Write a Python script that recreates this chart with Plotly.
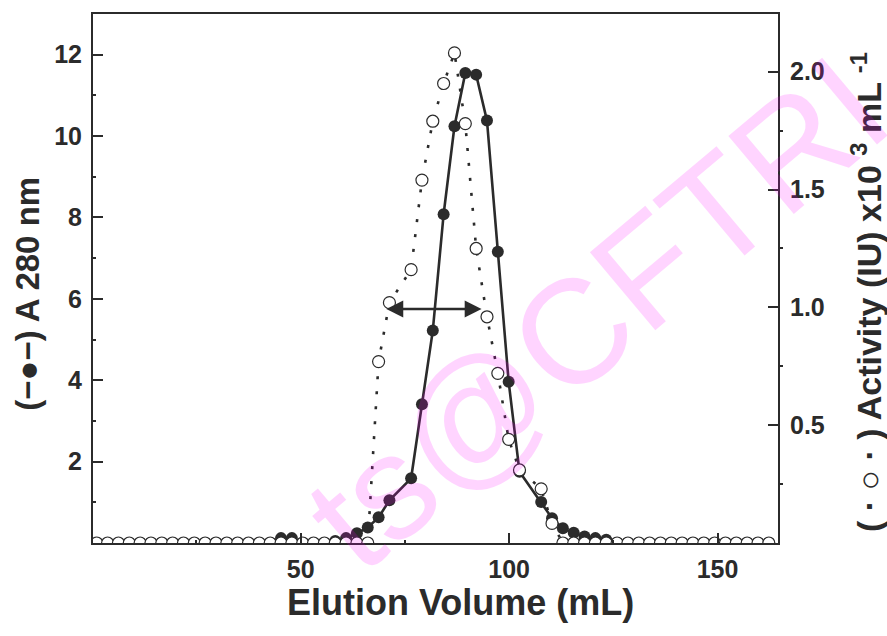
import plotly.graph_objects as go

# Elution volume of each collected fraction (mL)
volume_ml = [
    1.1, 3.7, 6.3, 8.9, 11.5, 14.1, 16.7, 19.3, 21.9, 24.5,
    27.1, 29.7, 32.3, 34.9, 37.5, 40.1, 42.7, 45.3, 47.9, 50.5,
    53.1, 55.7, 58.3, 60.9, 63.5, 66.1, 68.7, 71.3, 76.5, 79.1,
    81.7, 84.3, 86.9, 89.5, 92.1, 94.7, 97.3, 99.9, 102.5, 107.7,
    110.3, 112.9, 115.5, 118.1, 120.7, 123.3, 125.9, 128.5, 131.1, 133.7,
    136.3, 138.9, 141.5, 144.1, 146.7, 149.3, 151.9, 154.5, 157.1, 159.7, 162.3,
]

# Protein absorbance at 280 nm
a280 = [
    0, 0, 0, 0, 0, 0, 0, 0, 0, 0,
    0, 0, 0, 0, 0, 0, 0, 0.12, 0.12, 0,
    0, 0, 0.05, 0.12, 0.24, 0.38, 0.63, 1.05, 1.59, 3.41,
    5.22, 8.08, 10.24, 11.55, 11.51, 10.38, 7.16, 3.96, 1.75, 1.01,
    0.61, 0.36, 0.25, 0.16, 0.12, 0.08, 0, 0, 0, 0,
    0, 0, 0, 0, 0, 0, 0, 0, 0, 0, 0,
]

# Enzyme activity (IU x10^3 per mL)
activity = [
    0, 0, 0, 0, 0, 0, 0, 0, 0, 0,
    0, 0, 0, 0, 0, 0, 0, 0, 0, 0,
    0, 0, 0, 0, 0, 0, 0.77, 1.02, 1.16, 1.54,
    1.79, 1.95, 2.08, 1.78, 1.25, 0.96, 0.72, 0.44, 0.31, 0.23,
    0.083, 0, 0, 0, 0, 0, 0, 0, 0, 0,
    0, 0, 0, 0, 0, 0, 0, 0, 0, 0, 0,
]

# Pooled active fractions (double arrow), in mL and A280 units
pool_start_ml = 70.2
pool_end_ml = 93.4
pool_level = 5.75

x_ticks = [50, 100, 150]
x_minor = [25, 75, 125]
y_ticks = [2, 4, 6, 8, 10, 12]
y_minor = [1, 3, 5, 7, 9, 11]
y2_ticks = [0.5, 1.0, 1.5, 2.0]
y2_labels = ["0.5", "1.0", "1.5", "2.0"]
y2_minor = [0.25, 0.75, 1.25, 1.75]

INK = "#2b2b2b"
FONT = "Arial, Liberation Sans, Helvetica, sans-serif"

fig = go.Figure()

fig.add_trace(go.Scatter(
    x=volume_ml, y=a280, mode="lines+markers", name="A280",
    line=dict(color=INK, width=2.6),
    marker=dict(symbol="circle", size=12, color=INK),
))

fig.add_trace(go.Scatter(
    x=volume_ml, y=activity, yaxis="y2", mode="lines+markers", name="Activity",
    line=dict(color=INK, width=2.6, dash="3px,12px"),
    marker=dict(symbol="circle", size=12, color="white",
                line=dict(color=INK, width=1.2)),
))

axis_common = dict(
    showline=True, linewidth=2, linecolor=INK, showgrid=False, zeroline=False,
    ticks="inside", ticklen=10, tickwidth=2, tickcolor=INK,
    tickfont=dict(family=FONT, size=25, color=INK, weight=700),
)

fig.update_layout(
    width=887, height=636,
    margin=dict(l=93, r=109, t=14, b=93),
    paper_bgcolor="white", plot_bgcolor="white",
    showlegend=False,
    xaxis=dict(
        range=[0.2, 164.5], tickmode="array", tickvals=x_ticks, mirror=True,
        ticklabelstandoff=3,
        minor=dict(tickmode="array", tickvals=x_minor, ticks="inside",
                   ticklen=3, tickwidth=1.5, tickcolor=INK),
        **axis_common,
    ),
    yaxis=dict(
        range=[0, 13], tickmode="array", tickvals=y_ticks,
        ticklabelstandoff=4,
        minor=dict(tickmode="array", tickvals=y_minor, ticks="inside",
                   ticklen=3, tickwidth=1.5, tickcolor=INK),
        **axis_common,
    ),
    yaxis2=dict(
        range=[0, 2.245], overlaying="y", side="right", anchor="x",
        tickmode="array", tickvals=y2_ticks, ticktext=y2_labels,
        ticklabelstandoff=5,
        minor=dict(tickmode="array", tickvals=y2_minor, ticks="outside",
                   ticklen=3, tickwidth=1.5, tickcolor=INK),
        **axis_common,
    ),
)


def title_font(size):
    return dict(family=FONT, size=size, color=INK, weight=700)


fig.add_annotation(
    text="Elution Volume (mL)", xref="paper", yref="paper",
    x=0.537, y=-0.113, xanchor="center", yanchor="middle",
    showarrow=False, font=title_font(36),
)
fig.add_annotation(
    text="(−●−) A 280 nm", xref="paper", yref="paper",
    x=-0.095, y=0.471, xanchor="center", yanchor="middle",
    textangle=-90, showarrow=False, font=title_font(33),
)
fig.add_annotation(
    text="( · ○ · ) Activity (IU) x10 <sup>3</sup> mL <sup>-1</sup>",
    xref="paper", yref="paper",
    x=1.129, y=0.475, xanchor="center", yanchor="middle",
    textangle=-90, showarrow=False, font=title_font(34),
)

# Double-headed arrow marking the pooled fractions
fig.add_annotation(
    x=pool_end_ml, y=pool_level, ax=pool_start_ml, ay=pool_level,
    xref="x", yref="y", axref="x", ayref="y", text="",
    showarrow=True, arrowside="end+start", arrowhead=2, startarrowhead=2,
    arrowsize=1.3, startarrowsize=1.3, arrowwidth=2.6, arrowcolor=INK,
)

# Diagonal watermark
fig.add_annotation(
    text="ts@CFTRI", xref="paper", yref="paper",
    x=0.735, y=0.435, xanchor="center", yanchor="middle",
    textangle=-40, showarrow=False,
    font=dict(family=FONT, size=148, color="rgba(255,0,255,0.17)"),
)

fig.write_html("out.html")
